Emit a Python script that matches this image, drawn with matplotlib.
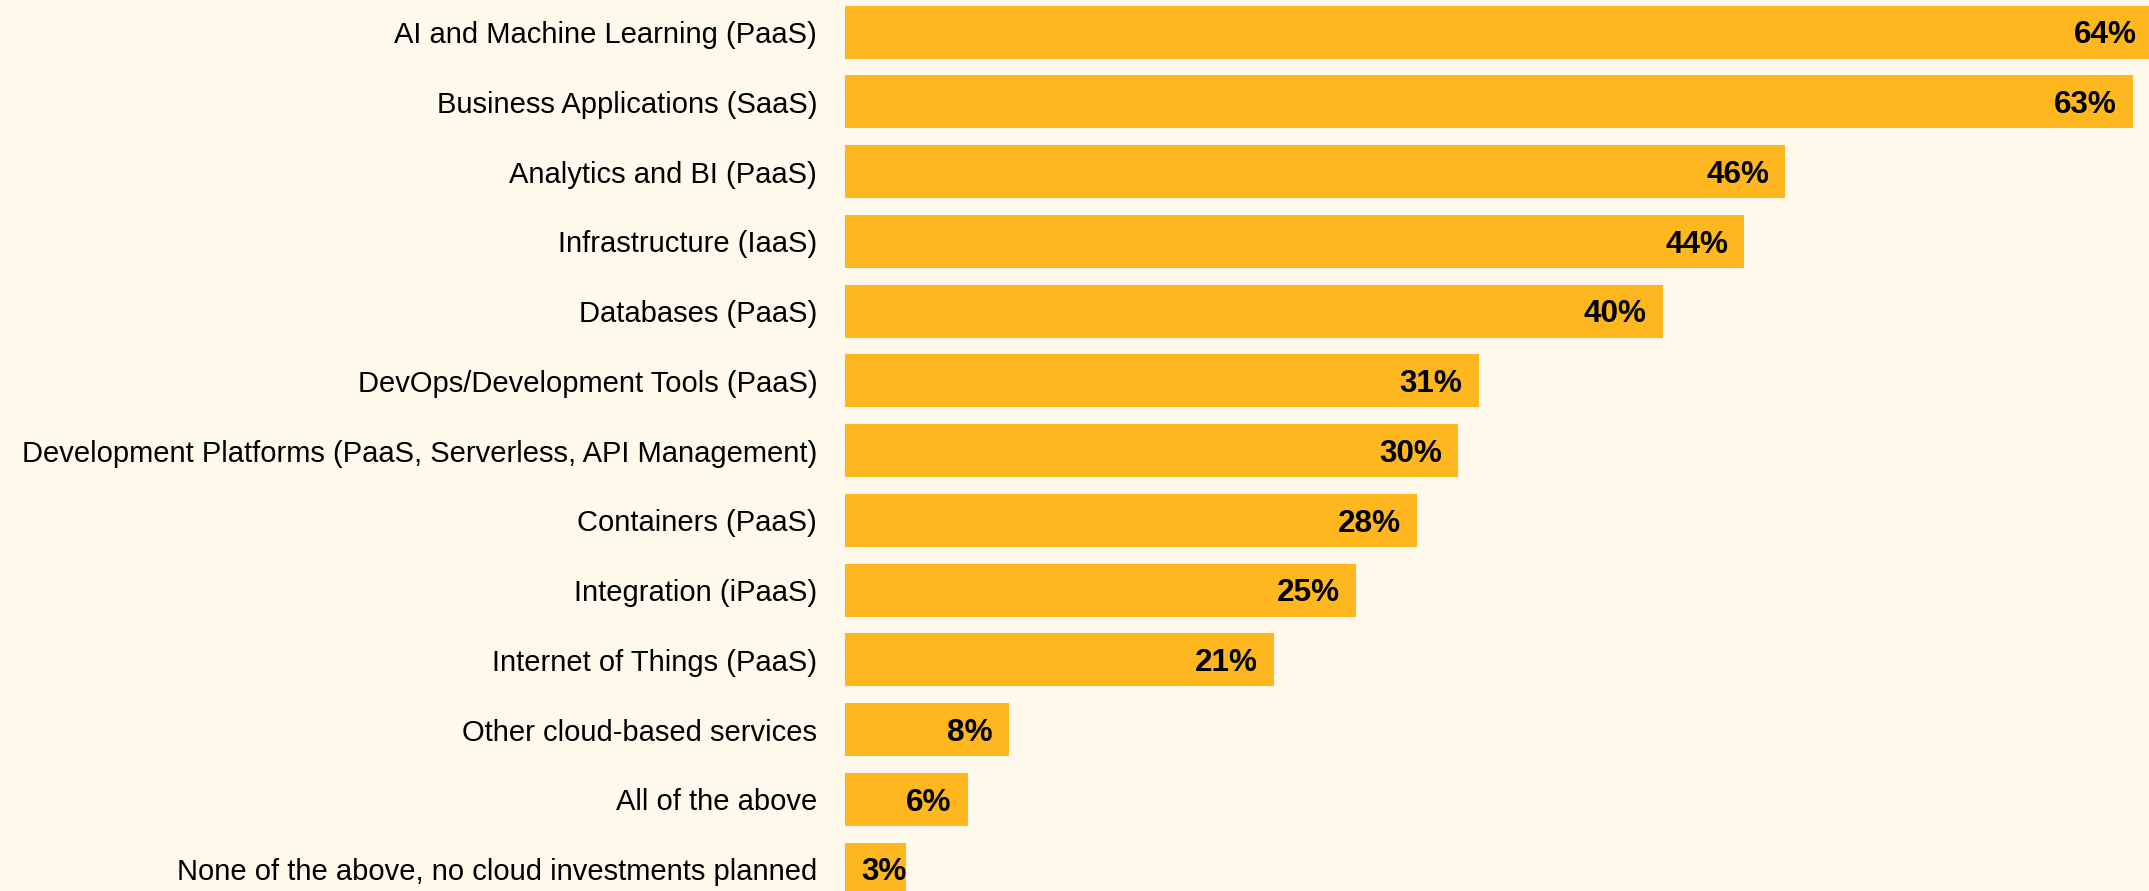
import matplotlib.pyplot as plt

# survey results: planned cloud investments
categories = [
    'AI and Machine Learning (PaaS)',
    'Business Applications (SaaS)',
    'Analytics and BI (PaaS)',
    'Infrastructure (IaaS)',
    'Databases (PaaS)',
    'DevOps/Development Tools (PaaS)',
    'Development Platforms (PaaS, Serverless, API Management)',
    'Containers (PaaS)',
    'Integration (iPaaS)',
    'Internet of Things (PaaS)',
    'Other cloud-based services',
    'All of the above',
    'None of the above, no cloud investments planned',
]
values = [64, 63, 46, 44, 40, 31, 30, 28, 25, 21, 8, 6, 3]

bar_color = '#FEB71F'
bg_color = '#FEF9EB'

plt.rcParams['font.family'] = ['Liberation Sans', 'DejaVu Sans']

fig = plt.figure(figsize=(21.49, 8.91), dpi=100, facecolor=bg_color)
ax = fig.add_axes([845 / 2149, 0, 1 - 845 / 2149, 1])
ax.set_facecolor(bg_color)

y = list(range(len(categories)))
ax.barh(y, values, height=0.76, color=bar_color)

# labels sit on their baseline, nudged down so the digits are centred in the bar
for yi, v in zip(y, values):
    ax.text(max(v - 0.78, 3.0), yi + 0.16, f'{v}%', ha='right', va='baseline',
            fontsize=22.7, fontweight='bold', color='black')

ax.set_yticks(y)
ax.set_yticklabels(categories, fontsize=21)
ax.tick_params(axis='y', length=0, pad=20)
ax.set_xticks([])
ax.set_xlim(0, 63.8)
ax.set_ylim(12.313, -0.461)
for s in ax.spines.values():
    s.set_visible(False)

fig.savefig('out.png', dpi=100, facecolor=bg_color)
